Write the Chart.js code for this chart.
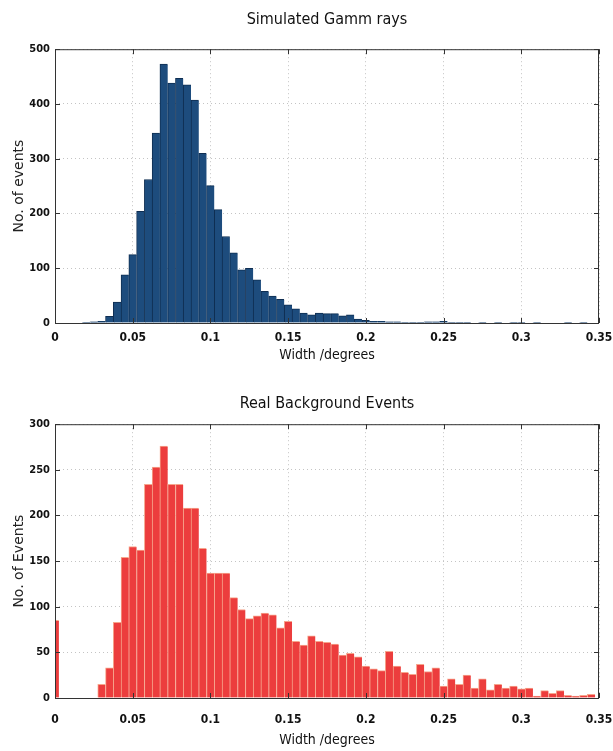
<!DOCTYPE html>
<html>
<head>
<meta charset="utf-8">
<title>Width histograms</title>
<script src="https://cdn.jsdelivr.net/npm/chart.js@4.4.1/dist/chart.umd.min.js"></script>
<style>
  html, body { margin: 0; padding: 0; background: #fff; }
  #wrap { position: relative; width: 613px; height: 751px; }
  #wrap canvas { position: absolute; left: 0; }
</style>
</head>
<body>
<div id="wrap">
  <canvas id="gammaChart" width="613" height="376" style="top:0"></canvas>
  <canvas id="bgChart" width="613" height="375" style="top:376px"></canvas>
</div>
<script>
'use strict';

// bin centres (degrees), shared by both histograms
const BIN_CENTERS = [
  0, 0.005, 0.01, 0.015, 0.02, 0.025, 0.03, 0.035, 0.04, 0.045,
  0.05, 0.055, 0.06, 0.065, 0.07, 0.075, 0.08, 0.085, 0.09, 0.095,
  0.1, 0.105, 0.11, 0.115, 0.12, 0.125, 0.13, 0.135, 0.14, 0.145,
  0.15, 0.155, 0.16, 0.165, 0.17, 0.175, 0.18, 0.185, 0.19, 0.195,
  0.2, 0.205, 0.21, 0.215, 0.22, 0.225, 0.23, 0.235, 0.24, 0.245,
  0.25, 0.255, 0.26, 0.265, 0.27, 0.275, 0.28, 0.285, 0.29, 0.295,
  0.3, 0.305, 0.31, 0.315, 0.32, 0.325, 0.33, 0.335, 0.34, 0.345,
  0.35,
];

const GAMMA_COUNTS = [
  0, 0, 0, 0, 1, 2, 3, 12, 38, 88,
  125, 204, 262, 347, 473, 438, 447, 435, 407, 310,
  251, 207, 158, 128, 97, 100, 79, 58, 49, 43,
  33, 26, 18, 15, 18, 17, 17, 13, 15, 7,
  5, 3, 3, 2, 2, 1, 1, 1, 2, 2,
  3, 1, 1, 1, 0, 1, 0, 1, 0, 1,
  1, 0, 1, 0, 0, 0, 1, 0, 1, 0,
  0,
];

const BACKGROUND_COUNTS = [
  85, 0, 0, 0, 0, 0, 15, 33, 83, 154,
  166, 162, 234, 253, 276, 234, 234, 208, 208, 164,
  137, 137, 137, 110, 97, 87, 90, 93, 91, 77,
  84, 62, 58, 68, 62, 61, 59, 47, 49, 45,
  35, 32, 30, 51, 35, 28, 26, 37, 29, 33,
  13, 21, 15, 25, 11, 21, 9, 15, 11, 13,
  10, 11, 2, 8, 5, 8, 3, 2, 3, 4,
  0,
];

const X_TICKS = [0, 0.05, 0.1, 0.15, 0.2, 0.25, 0.3, 0.35];
const X_TICK_LABELS = ['0', '0.05', '0.1', '0.15', '0.2', '0.25', '0.3', '0.35'];
const GAMMA_Y_TICKS = [0, 100, 200, 300, 400, 500];
const BG_Y_TICKS = [0, 50, 100, 150, 200, 250, 300];

const NARROW = "'Liberation Sans Narrow', 'DejaVu Sans Condensed', 'Liberation Sans', sans-serif";

// matlab-style closed box with inward ticks
const boxPlugin = {
  id: 'box',
  afterDraw(chart) {
    const { ctx, chartArea: a, scales } = chart;
    ctx.save();
    ctx.strokeStyle = '#333';
    ctx.lineWidth = 1;
    ctx.strokeRect(a.left + 0.5, a.top + 0.5, a.right - a.left - 1, a.bottom - a.top);
    ctx.beginPath();
    scales.x.ticks.forEach(t => {
      const px = Math.round(scales.x.getPixelForValue(t.value)) + 0.5;
      ctx.moveTo(px, a.bottom); ctx.lineTo(px, a.bottom - 5);
      ctx.moveTo(px, a.top); ctx.lineTo(px, a.top + 5);
    });
    scales.y.ticks.forEach(t => {
      const py = Math.round(scales.y.getPixelForValue(t.value)) + 0.5;
      ctx.moveTo(a.left, py); ctx.lineTo(a.left + 5, py);
      ctx.moveTo(a.right, py); ctx.lineTo(a.right - 5, py);
    });
    ctx.stroke();
    ctx.restore();
  },
};

function histogram(id, cfg) {
  const el = document.getElementById(id);
  if (!el) return;
  new Chart(el.getContext('2d'), {
    type: 'bar',
    data: {
      datasets: [{
        data: BIN_CENTERS.map((x, i) => ({ x, y: cfg.counts[i] })),
        backgroundColor: cfg.fill,
        borderColor: cfg.edge,
        borderWidth: { left: 1, top: 1, right: 0, bottom: 0 },
        borderSkipped: false,
        barPercentage: 1,
        categoryPercentage: 1,
      }],
    },
    options: {
      responsive: false,
      animation: false,
      layout: { padding: { left: 8, right: 14, top: 0, bottom: 0 } },
      plugins: {
        legend: { display: false },
        tooltip: { enabled: false },
        title: {
          display: true,
          fullSize: false,
          text: cfg.title,
          color: '#111',
          font: { family: NARROW, size: 16, weight: 'normal' },
          padding: cfg.titlePad,
        },
      },
      scales: {
        x: {
          type: 'linear',
          min: 0,
          max: 0.35,
          offset: false,
          afterBuildTicks: s => { s.ticks = X_TICKS.map(v => ({ value: v })); },
          afterFit: s => { s.height = 53; s.paddingLeft = 0; s.paddingRight = 0; },
          ticks: {
            padding: cfg.xTickPad,
            maxRotation: 0,
            color: '#111',
            font: { family: NARROW, size: 12, weight: 'bold' },
            callback: v => X_TICK_LABELS[X_TICKS.indexOf(v)],
          },
          grid: { color: '#c4c4c4', drawTicks: false, offset: false },
          border: { display: false, dash: [1, 3] },
          title: {
            display: true,
            text: 'Width /degrees',
            color: '#111',
            font: { family: NARROW, size: 14 },
            padding: { top: 0, bottom: cfg.xTitlePad },
          },
        },
        y: {
          min: 0,
          max: cfg.yTicks[cfg.yTicks.length - 1],
          afterBuildTicks: s => { s.ticks = cfg.yTicks.map(v => ({ value: v })); },
          afterFit: s => { s.width = 47; },
          ticks: {
            padding: 5,
            color: '#111',
            font: { family: NARROW, size: 11, weight: 'bold' },
          },
          grid: { color: '#c4c4c4', drawTicks: false },
          border: { display: false, dash: [1, 3] },
          title: {
            display: true,
            text: cfg.yTitle,
            color: '#222',
            font: { family: "'DejaVu Sans', sans-serif", size: 14 },
            padding: { top: 3, bottom: 0 },
          },
        },
      },
    },
    plugins: [boxPlugin],
  });
}

// --- Simulated gamma rays ---
histogram('gammaChart', {
  title: 'Simulated Gamm rays',
  yTitle: 'No. of events',
  counts: GAMMA_COUNTS,
  yTicks: GAMMA_Y_TICKS,
  fill: '#1d4c7d',
  edge: '#0f2e52',
  titlePad: { top: 10, bottom: 20 },
  xTickPad: 8,
  xTitlePad: 12,
});

// --- Real background events ---
histogram('bgChart', {
  title: 'Real Background Events',
  yTitle: 'No. of Events',
  counts: BACKGROUND_COUNTS,
  yTicks: BG_Y_TICKS,
  fill: '#ec3d3d',
  edge: '#f6a58c',
  titlePad: { top: 18, bottom: 11 },
  xTickPad: 15,
  xTitlePad: 2,
});
</script>
</body>
</html>
